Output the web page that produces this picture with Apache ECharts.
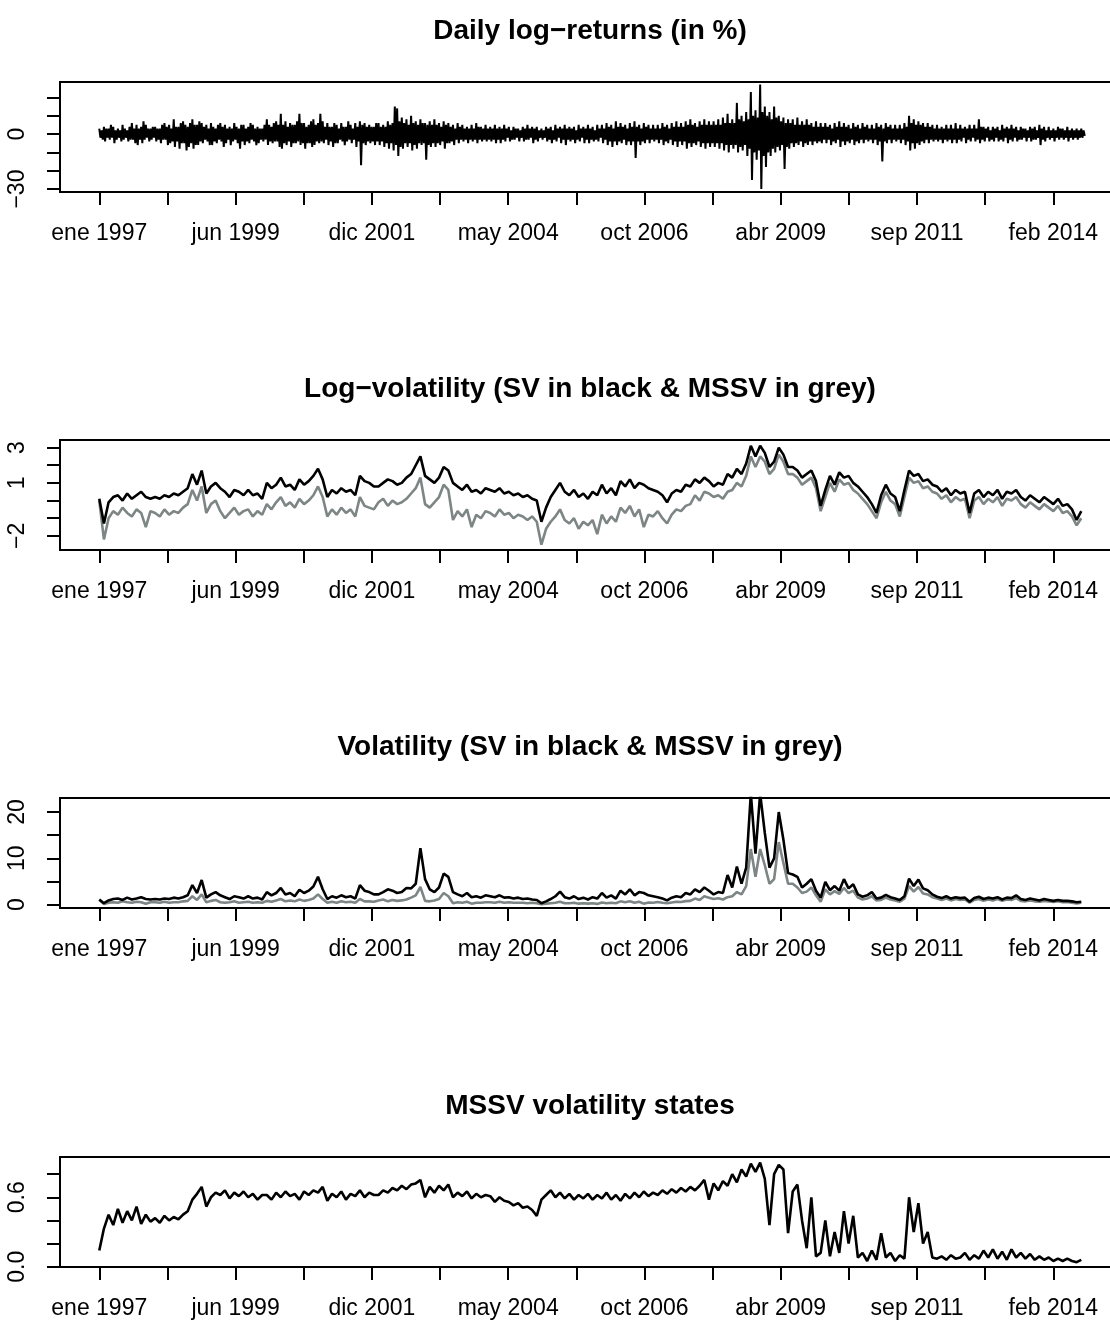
<!DOCTYPE html>
<html>
<head>
<meta charset="utf-8">
<title>SV vs MSSV</title>
<script src="https://cdn.jsdelivr.net/npm/echarts@6/dist/echarts.min.js"></script>
<style>
    html, body { margin: 0; padding: 0; background: #fff; overflow: hidden; }
    /* the plot boxes run past the right edge of the window, as in the original */
    #chart { width: 1130px; height: 1321px; }
</style>
</head>
<body>
<div id="chart"></div>
<script>
    // daily returns: upper / lower reach per half month, ene 1997 .. ago 2014 (one row per year)
    var returnsHigh = [
        3, 2, 4, 3, 3, 5, 4, 2, 3, 2, 5, 3, 2, 4, 6, 3, 5, 3, 4, 7, 5, 3, 3, 4,
        4, 3, 3, 5, 6, 4, 5, 3, 8, 4, 4, 6, 7, 5, 4, 6, 8, 5, 5, 7, 6, 4, 5, 3,
        6, 4, 3, 5, 6, 4, 5, 3, 4, 3, 6, 4, 3, 5, 5, 3, 4, 6, 5, 3, 4, 3, 3, 5,
        8, 5, 4, 6, 7, 5, 11, 5, 7, 4, 6, 5, 5, 7, 11, 6, 6, 4, 5, 7, 8, 5, 6, 11,
        7, 4, 6, 4, 4, 6, 5, 3, 6, 4, 4, 7, 5, 3, 6, 4, 7, 5, 6, 4, 5, 4, 4, 6,
        6, 4, 5, 4, 7, 5, 6, 15, 14, 7, 9, 6, 8, 5, 10, 6, 7, 5, 8, 6, 6, 5, 7, 5,
        8, 5, 6, 4, 7, 5, 6, 4, 5, 3, 6, 4, 5, 3, 4, 3, 5, 3, 6, 4, 4, 3, 5, 3,
        4, 3, 5, 3, 4, 3, 5, 3, 4, 2, 4, 3, 3, 2, 4, 3, 5, 3, 4, 3, 4, 2, 3, 2,
        4, 3, 4, 2, 5, 3, 4, 3, 5, 3, 4, 3, 4, 2, 5, 3, 4, 3, 5, 3, 4, 2, 5, 3,
        5, 3, 6, 4, 5, 3, 7, 4, 6, 4, 5, 3, 6, 4, 7, 4, 5, 3, 6, 4, 5, 3, 5, 3,
        5, 3, 6, 4, 5, 3, 6, 4, 7, 4, 6, 4, 7, 5, 8, 5, 6, 4, 7, 5, 8, 5, 7, 5,
        7, 5, 8, 5, 9, 6, 11, 6, 8, 6, 17, 8, 10, 7, 12, 8, 23, 10, 13, 9, 27, 12, 15, 10,
        12, 8, 15, 9, 10, 7, 9, 6, 8, 6, 8, 5, 9, 5, 7, 5, 8, 5, 6, 4, 7, 4, 6, 4,
        6, 4, 5, 3, 6, 4, 7, 4, 6, 4, 5, 3, 6, 4, 5, 3, 6, 4, 5, 3, 5, 3, 6, 4,
        5, 3, 6, 4, 5, 3, 5, 3, 5, 3, 6, 4, 10, 6, 8, 5, 7, 5, 6, 4, 6, 4, 5, 3,
        5, 3, 4, 3, 5, 3, 5, 3, 6, 3, 5, 3, 4, 3, 5, 3, 5, 3, 8, 4, 4, 3, 4, 2,
        4, 3, 4, 2, 5, 3, 4, 3, 5, 3, 4, 2, 4, 3, 3, 2, 4, 3, 4, 2, 5, 3, 4, 2,
        4, 2, 3, 2, 4, 3, 3, 2, 4, 2, 3, 2, 3, 2, 3, 2
    ];
    var returnsLow = [
        -2, -3, -4, -2, -3, -2, -5, -3, -2, -4, -3, -2, -4, -3, -3, -5, -6, -3, -5, -3, -2, -4, -3, -2,
        -4, -3, -5, -3, -3, -6, -5, -4, -7, -4, -8, -5, -5, -9, -7, -5, -8, -6, -6, -4, -5, -3, -4, -6,
        -6, -4, -5, -3, -4, -7, -5, -3, -6, -4, -3, -5, -8, -4, -6, -4, -5, -3, -4, -6, -5, -3, -4, -3,
        -6, -4, -5, -4, -4, -7, -8, -5, -6, -4, -7, -5, -5, -4, -6, -5, -8, -5, -5, -7, -6, -4, -5, -4,
        -5, -3, -6, -4, -7, -5, -5, -3, -4, -6, -4, -3, -5, -3, -7, -4, -17, -5, -6, -4, -5, -4, -6, -4,
        -6, -4, -7, -5, -8, -5, -9, -6, -12, -7, -8, -5, -7, -5, -9, -6, -8, -5, -6, -5, -14, -6, -7, -5,
        -7, -5, -6, -4, -8, -5, -5, -4, -6, -3, -5, -3, -4, -3, -5, -3, -4, -3, -5, -3, -4, -3, -4, -3,
        -4, -3, -5, -3, -5, -3, -4, -2, -4, -3, -3, -2, -4, -2, -4, -3, -3, -2, -5, -3, -4, -2, -3, -2,
        -4, -3, -5, -3, -4, -2, -5, -3, -6, -3, -4, -3, -5, -3, -4, -2, -5, -3, -5, -3, -4, -3, -4, -2,
        -5, -3, -6, -4, -7, -4, -6, -4, -5, -3, -6, -4, -6, -4, -13, -4, -6, -4, -5, -3, -5, -3, -4, -3,
        -5, -3, -6, -4, -5, -3, -6, -4, -7, -4, -6, -4, -8, -5, -7, -5, -6, -4, -7, -5, -8, -5, -7, -5,
        -7, -5, -8, -5, -9, -6, -10, -6, -8, -6, -10, -7, -9, -6, -12, -8, -25, -10, -14, -9, -30, -12, -18, -10,
        -12, -8, -10, -7, -9, -6, -19, -7, -8, -5, -7, -5, -6, -4, -7, -5, -6, -4, -6, -4, -5, -4, -5, -3,
        -5, -3, -6, -4, -5, -3, -7, -4, -6, -4, -5, -3, -6, -4, -5, -3, -5, -3, -4, -3, -5, -3, -6, -4,
        -15, -4, -5, -3, -5, -3, -4, -3, -5, -3, -6, -4, -9, -5, -8, -5, -6, -4, -5, -3, -5, -3, -4, -3,
        -4, -3, -5, -3, -4, -3, -5, -3, -5, -3, -4, -2, -5, -3, -4, -2, -4, -3, -5, -3, -4, -2, -4, -3,
        -4, -2, -4, -3, -4, -2, -5, -3, -4, -2, -4, -3, -3, -2, -4, -2, -4, -3, -3, -2, -6, -3, -4, -2,
        -3, -2, -4, -2, -3, -2, -3, -2, -4, -2, -3, -2, -3, -2, -2, -1
    ];
    // monthly readings, ene 1997 .. ago 2014 (one row per year)
    var logVolSV = [
        0.1, -1.3, -0.1, 0.2, 0.3, 0.0, 0.4, 0.1, 0.3, 0.5, 0.2, 0.1,
        0.2, 0.1, 0.3, 0.2, 0.4, 0.3, 0.5, 0.7, 1.5, 0.9, 1.7, 0.4,
        0.8, 1.0, 0.7, 0.5, 0.2, 0.6, 0.5, 0.3, 0.6, 0.3, 0.4, 0.1,
        1.0, 0.7, 0.9, 1.3, 0.8, 0.9, 0.6, 1.2, 0.9, 1.1, 1.4, 1.8,
        1.2, 0.2, 0.6, 0.4, 0.7, 0.5, 0.6, 0.3, 1.4, 1.1, 1.0, 0.8,
        0.8, 1.0, 1.2, 1.1, 0.9, 1.0, 1.3, 1.5, 2.0, 2.5, 1.4, 1.2,
        1.0, 1.3, 1.9, 1.7, 1.0, 0.8, 0.6, 0.9, 0.5, 0.6, 0.4, 0.7,
        0.6, 0.5, 0.7, 0.4, 0.5, 0.3, 0.4, 0.2, 0.3, 0.1, 0.0, -1.2,
        -0.4, 0.2, 0.6, 1.0, 0.5, 0.3, 0.6, 0.2, 0.4, 0.1, 0.5, 0.3,
        0.9, 0.4, 0.7, 0.3, 1.1, 0.8, 1.2, 0.7, 1.0, 0.9, 0.7, 0.6,
        0.5, 0.3, -0.1, 0.4, 0.6, 0.5, 0.9, 0.8, 1.2, 1.0, 1.3, 1.1,
        0.8, 1.0, 0.9, 1.5, 1.3, 1.8, 1.5, 2.1, 3.1, 2.5, 3.1, 2.7,
        1.9, 2.2, 3.0, 2.6, 1.9, 1.9, 1.7, 1.3, 1.5, 1.7, 1.1, -0.3,
        0.6, 1.4, 0.9, 1.6, 1.3, 1.4, 1.0, 0.8, 0.5, 0.2, -0.2, -0.7,
        0.3, 0.9, 0.4, 0.2, -0.6, 0.6, 1.7, 1.4, 1.5, 1.1, 1.2, 0.9,
        0.8, 0.5, 0.7, 0.3, 0.6, 0.4, 0.5, -0.7, 0.4, 0.6, 0.2, 0.5,
        0.3, 0.6, 0.1, 0.5, 0.4, 0.6, 0.2, 0.0, 0.3, 0.1, -0.1, 0.2,
        0.0, -0.2, 0.1, -0.3, -0.2, -0.5, -1.1, -0.6
    ];
    var logVolMSSV = [
        0.0, -2.2, -1.0, -0.6, -0.8, -0.4, -0.7, -0.9, -0.5, -0.7, -1.5, -0.6,
        -0.7, -0.9, -0.5, -0.8, -0.6, -0.7, -0.4, -0.2, 0.6, 0.0, 0.8, -0.7,
        -0.2, 0.0, -0.6, -1.0, -0.7, -0.4, -0.8, -0.6, -0.5, -0.9, -0.6, -0.8,
        -0.2, -0.5, -0.1, 0.2, -0.3, -0.1, -0.4, 0.1, -0.2, 0.0, 0.3, 0.8,
        0.2, -0.9, -0.5, -0.8, -0.4, -0.7, -0.5, -0.9, 0.2, -0.3, -0.4, -0.5,
        -0.1, 0.1, -0.3, 0.0, -0.2, -0.1, 0.1, 0.4, 0.7, 1.3, -0.2, -0.4,
        -0.1, 0.2, 0.9, 0.6, -1.1, -0.6, -0.9, -0.5, -1.5, -0.8, -1.0, -0.6,
        -0.7, -0.9, -0.5, -0.8, -0.7, -1.0, -0.8, -0.9, -1.1, -0.9, -1.2, -2.5,
        -1.6, -1.2, -0.9, -0.5, -1.1, -1.3, -1.0, -1.6, -1.2, -1.4, -1.1, -1.9,
        -0.8, -1.3, -0.9, -1.2, -0.4, -0.7, -0.3, -0.9, -0.5, -1.5, -0.8, -0.9,
        -0.6, -1.0, -1.3, -0.8, -0.5, -0.6, -0.3, -0.2, 0.3, 0.0, 0.5, 0.4,
        0.2, 0.3, 0.1, 0.5, 0.6, 1.0, 0.8, 1.4, 2.5, 1.9, 2.5, 2.2,
        1.5, 1.8, 2.6, 2.2, 1.5, 1.5, 1.3, 0.9, 1.1, 1.3, 0.7, -0.6,
        0.2, 1.0, 0.5, 1.2, 0.9, 1.0, 0.6, 0.4, 0.1, -0.2, -0.6, -1.0,
        -0.1, 0.5, 0.0, -0.2, -0.9, 0.2, 1.3, 1.0, 1.1, 0.7, 0.8, 0.5,
        0.4, 0.1, 0.3, -0.1, 0.2, 0.0, 0.1, -1.0, 0.0, 0.2, -0.2, 0.1,
        -0.1, 0.2, -0.3, 0.1, 0.0, 0.2, -0.2, -0.4, -0.1, -0.3, -0.5, -0.2,
        -0.4, -0.6, -0.3, -0.7, -0.6, -0.9, -1.4, -1.0
    ];
    var volSV = [
        1.1, 0.3, 0.9, 1.2, 1.3, 1.0, 1.5, 1.1, 1.3, 1.6, 1.2, 1.1,
        1.2, 1.1, 1.3, 1.2, 1.5, 1.3, 1.6, 2.0, 4.2, 2.5, 5.3, 1.5,
        2.2, 2.7, 2.0, 1.6, 1.2, 1.8, 1.6, 1.3, 1.8, 1.3, 1.5, 1.1,
        2.7, 2.0, 2.5, 3.6, 2.2, 2.5, 1.8, 3.2, 2.5, 3.0, 3.9, 6.0,
        3.3, 1.2, 1.8, 1.5, 2.0, 1.6, 1.8, 1.3, 4.2, 3.0, 2.7, 2.2,
        2.2, 2.7, 3.3, 3.0, 2.5, 2.7, 3.6, 3.5, 4.5, 12.2, 5.5, 3.3,
        2.7, 3.7, 6.7, 6.0, 2.7, 2.2, 1.8, 2.5, 1.6, 1.8, 1.5, 2.0,
        1.8, 1.6, 2.0, 1.5, 1.6, 1.3, 1.5, 1.2, 1.3, 1.1, 1.0, 0.3,
        0.7, 1.2, 1.8, 2.8, 1.6, 1.3, 1.8, 1.2, 1.5, 1.1, 1.6, 1.3,
        2.5, 1.5, 2.0, 1.3, 3.0, 2.2, 3.3, 2.0, 2.7, 2.5, 2.0, 1.8,
        1.6, 1.3, 0.9, 1.5, 1.8, 1.6, 2.5, 2.2, 3.3, 2.7, 3.7, 3.0,
        2.2, 2.7, 2.5, 6.4, 3.7, 8.2, 4.5, 8.0, 24.0, 11.0, 24.0, 15.5,
        8.0, 10.0, 20.0, 14.0, 6.8, 6.5, 6.0, 3.7, 4.5, 5.5, 3.0, 1.5,
        4.9, 3.1, 4.0, 3.0, 5.5, 3.5, 4.4, 2.2, 1.7, 2.0, 2.7, 1.3,
        1.5, 2.1, 1.6, 1.3, 1.0, 1.8, 5.6, 4.0, 5.4, 3.5, 3.1, 2.2,
        1.7, 1.4, 1.8, 1.3, 1.6, 1.4, 1.5, 0.6, 1.4, 1.7, 1.2, 1.5,
        1.3, 1.6, 1.1, 1.5, 1.4, 2.0, 1.2, 1.0, 1.3, 1.1, 0.9, 1.2,
        1.0, 0.8, 1.0, 0.8, 0.8, 0.7, 0.5, 0.6
    ];
    var volMSSV = [
        1.0, 0.1, 0.4, 0.5, 0.4, 0.7, 0.5, 0.4, 0.6, 0.5, 0.2, 0.5,
        0.5, 0.4, 0.6, 0.4, 0.5, 0.5, 0.7, 0.8, 1.8, 1.0, 2.2, 0.5,
        0.8, 1.0, 0.5, 0.4, 0.5, 0.7, 0.4, 0.5, 0.6, 0.4, 0.5, 0.4,
        0.8, 0.6, 0.9, 1.2, 0.7, 0.9, 0.7, 1.1, 0.8, 1.0, 1.3, 2.2,
        1.2, 0.4, 0.6, 0.4, 0.7, 0.5, 0.6, 0.4, 1.2, 0.7, 0.7, 0.6,
        0.9, 1.1, 0.7, 1.0, 0.8, 0.9, 1.1, 1.5, 2.0, 3.8, 0.8, 0.7,
        0.9, 1.2, 2.5, 1.8, 0.3, 0.5, 0.4, 0.6, 0.2, 0.4, 0.4, 0.5,
        0.5, 0.4, 0.6, 0.4, 0.5, 0.4, 0.4, 0.4, 0.3, 0.4, 0.3, 0.1,
        0.2, 0.3, 0.4, 0.6, 0.3, 0.3, 0.4, 0.2, 0.3, 0.2, 0.3, 0.15,
        0.45, 0.3, 0.4, 0.3, 0.7, 0.5, 0.7, 0.4, 0.6, 0.2, 0.45, 0.4,
        0.55, 0.4, 0.3, 0.45, 0.6, 0.55, 0.75, 0.8, 1.3, 1.0, 1.8, 1.5,
        1.2, 1.35, 1.1, 1.6, 1.8, 2.7, 2.2, 4.0, 12.0, 6.0, 12.0, 8.5,
        4.5, 5.5, 13.5, 9.0, 4.5, 4.5, 3.7, 2.5, 2.8, 3.7, 2.0, 0.6,
        3.3, 2.2, 2.9, 2.3, 3.6, 2.5, 3.0, 1.5, 1.1, 1.3, 1.8, 0.9,
        1.0, 1.5, 1.1, 0.9, 0.6, 1.3, 4.0, 2.8, 3.8, 2.4, 2.2, 1.6,
        1.3, 1.0, 1.3, 0.9, 1.2, 1.0, 1.1, 0.4, 1.0, 1.2, 0.8, 1.1,
        0.9, 1.2, 0.8, 1.1, 1.0, 1.4, 0.8, 0.7, 0.9, 0.7, 0.6, 0.8,
        0.7, 0.55, 0.7, 0.5, 0.55, 0.4, 0.25, 0.4
    ];
    var statesMSSV = [
        0.14, 0.33, 0.45, 0.36, 0.50, 0.38, 0.48, 0.40, 0.52, 0.37, 0.45, 0.39,
        0.42, 0.38, 0.44, 0.40, 0.43, 0.41, 0.45, 0.48, 0.58, 0.63, 0.69, 0.52,
        0.60, 0.64, 0.62, 0.66, 0.59, 0.64, 0.61, 0.65, 0.60, 0.63, 0.58, 0.62,
        0.62, 0.58, 0.64, 0.60, 0.65, 0.61, 0.63, 0.58, 0.65, 0.62, 0.66, 0.64,
        0.69, 0.57, 0.63, 0.60, 0.65, 0.58, 0.63, 0.61, 0.66, 0.60, 0.64, 0.62,
        0.62, 0.66, 0.64, 0.68, 0.66, 0.70, 0.67, 0.71, 0.72, 0.75, 0.60, 0.69,
        0.64, 0.70, 0.66, 0.71, 0.60, 0.64, 0.61, 0.65, 0.59, 0.63, 0.60, 0.62,
        0.61, 0.56, 0.60, 0.57, 0.56, 0.53, 0.55, 0.51, 0.52, 0.49, 0.44, 0.58,
        0.62, 0.66, 0.60, 0.64, 0.59, 0.63, 0.58, 0.62, 0.59, 0.63, 0.58, 0.62,
        0.59, 0.64, 0.58, 0.62, 0.57, 0.63, 0.59, 0.64, 0.60, 0.65, 0.61, 0.64,
        0.62, 0.66, 0.63, 0.67, 0.64, 0.68, 0.65, 0.69, 0.66, 0.70, 0.75, 0.58,
        0.72, 0.66, 0.74, 0.70, 0.80, 0.73, 0.84, 0.78, 0.89, 0.82, 0.90, 0.76,
        0.36, 0.80, 0.88, 0.84, 0.29, 0.65, 0.71, 0.40, 0.16, 0.60, 0.09, 0.12,
        0.40, 0.09, 0.30, 0.12, 0.48, 0.20, 0.44, 0.08, 0.12, 0.05, 0.14, 0.06,
        0.29, 0.08, 0.12, 0.05, 0.10, 0.07, 0.60, 0.30, 0.55, 0.20, 0.30, 0.08,
        0.07, 0.09, 0.06, 0.10, 0.07, 0.08, 0.12, 0.06, 0.10, 0.07, 0.14, 0.08,
        0.15, 0.07, 0.13, 0.06, 0.15, 0.08, 0.12, 0.07, 0.11, 0.06, 0.09, 0.06,
        0.08, 0.05, 0.07, 0.05, 0.07, 0.05, 0.04, 0.06
    ];

    var xTickLabels = ['ene 1997', 'jun 1999', 'dic 2001', 'may 2004', 'oct 2006', 'abr 2009', 'sep 2011', 'feb 2014'];
    var titles = [
        'Daily log\u2212returns (in %)',
        'Log\u2212volatility (SV in black & MSSV in grey)',
        'Volatility (SV in black & MSSV in grey)',
        'MSSV volatility states'
    ];
    var yTicks = [
        [-30, -20, -10, 0, 10, 20],
        [-2, -1, 0, 1, 2, 3],
        [0, 5, 10, 15, 20],
        [0, 0.2, 0.4, 0.6, 0.8]
    ];
    var yLabels = [
        [-30, 0],
        [-2, 1, 3],
        [0, 10, 20],
        [0, 0.6]
    ];
    var yRanges = [[-31.6, 28.4], [-2.8, 3.43], [-0.74, 23.04], [-0.002, 0.948]];

    var FONT = '"Liberation Sans", Arial, Helvetica, sans-serif';
    var GREY = '#7d8585';
    var labelStep = 205 / 7;   // months between labelled ticks (ene 1997 -> feb 2014)
    var xTickVals = [];
    for (var k = 0; k <= 14; k++) xTickVals.push(k * labelStep / 2);
    var xLabelVals = xTickLabels.map(function (_, i) { return i * labelStep; });

    function pairs(arr) {
        return arr.map(function (v, i) { return [i, v]; });
    }
    // half-month reaches -> up/down path, x in months
    function zigzag(hi, lo) {
        var out = [];
        for (var j = 0; j < hi.length; j++) {
            out.push([j / 2, hi[j]]);
            out.push([j / 2 + 0.25, lo[j]]);
        }
        return out;
    }
    function fmtY(p) {
        return function (v) {
            var s = p === 3 ? v.toFixed(1) : String(v);
            return s.replace('-', '\u2212');
        };
    }

    var tops = [82, 440, 798, 1157];
    var grids = [], xAxes = [], yAxes = [], titleList = [];
    tops.forEach(function (t, i) {
        grids.push({
            left: 60, top: t, width: 1062, height: 110,
            show: true, borderColor: '#000', borderWidth: 2, backgroundColor: 'transparent'
        });
        titleList.push({
            text: titles[i], left: 585, top: t - 70, textAlign: 'center',
            textStyle: { fontFamily: FONT, fontSize: 28, fontWeight: 'bold', color: '#000' }
        });
        xAxes.push({
            gridIndex: i, type: 'value', min: -8.44, max: 219.75,
            axisLine: { show: false, onZero: false },
            splitLine: { show: false },
            axisTick: { show: true, inside: false, length: 13, customValues: xTickVals,
                lineStyle: { color: '#000', width: 2 } },
            axisLabel: {
                customValues: xLabelVals, margin: 30,
                fontFamily: FONT, fontSize: 23, color: '#000',
                formatter: function (v) { return xTickLabels[Math.round(v / labelStep)]; }
            }
        });
        yAxes.push({
            gridIndex: i, type: 'value', min: yRanges[i][0], max: yRanges[i][1],
            axisLine: { show: false, onZero: false },
            splitLine: { show: false },
            axisTick: { show: true, inside: false, length: 13, customValues: yTicks[i],
                lineStyle: { color: '#000', width: 2 } },
            axisLabel: {
                customValues: yLabels[i], rotate: 90, margin: 31,
                fontFamily: FONT, fontSize: 23, color: '#000',
                formatter: fmtY(i)
            }
        });
    });

    function line(idx, data, color, w) {
        return {
            type: 'line', xAxisIndex: idx, yAxisIndex: idx, data: data,
            showSymbol: false, symbol: 'none', clip: true, silent: true,
            lineStyle: { color: color, width: w }
        };
    }

    var chart = echarts.init(document.getElementById('chart'), null, { renderer: 'canvas' });
    chart.setOption({
        animation: false,
        backgroundColor: '#fff',
        title: titleList,
        grid: grids,
        xAxis: xAxes,
        yAxis: yAxes,
        series: [
            line(0, zigzag(returnsHigh, returnsLow), '#000', 2),
            line(1, pairs(logVolMSSV), GREY, 2.6),
            line(1, pairs(logVolSV), '#000', 2.6),
            line(2, pairs(volMSSV), GREY, 2.6),
            line(2, pairs(volSV), '#000', 2.6),
            line(3, pairs(statesMSSV), '#000', 2.6)
        ]
    });
</script>
</body>
</html>
